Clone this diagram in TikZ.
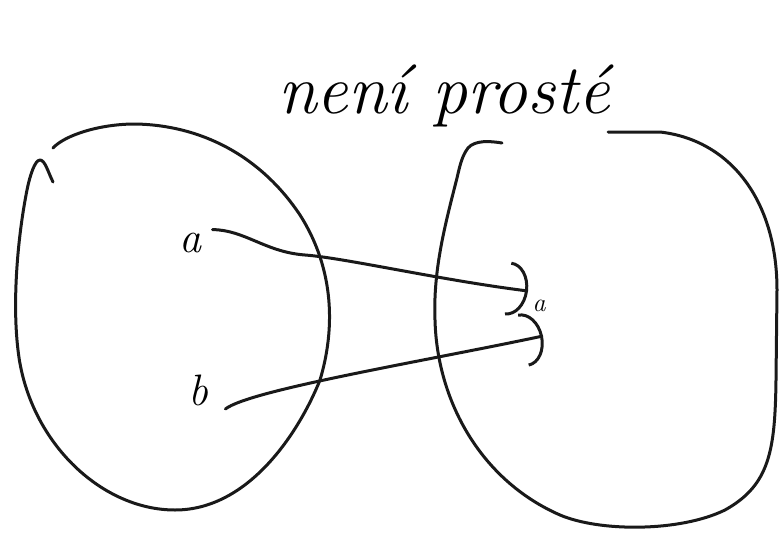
\documentclass[tikz,border=0pt]{standalone}
\usepackage{fontspec}
\usetikzlibrary{arrows.meta,positioning}
\tikzset{pen/.style={line width=3pt,line cap=round,line join=round,draw=black!90},map/.style={pen,-{Arc Barb[length=20pt,width=54pt,line width=3pt]}},lbl/.style={inner sep=3.3pt,font=\fontsize{44}{46}\selectfont\itshape}}

\begin{document}
\begin{tikzpicture}[x=1pt,y=-1pt]
\useasboundingbox (0,0) rectangle (779,535);
% the two sets
\draw[pen] (53,182) .. controls (48,172) and (45,160) .. (40,160) .. controls (35,160) and (30,175) .. (27,190) .. controls (18,235) and (12,300) .. (18,350) .. controls (28,440) and (100,510) .. (175,510) .. controls (250,510) and (300,430) .. (320,380) .. controls (335,330) and (335,270) .. (300,215) .. controls (260,155) and (200,125) .. (135,124) .. controls (100,124) and (65,135) .. (53,148);
\draw[pen] (502,143) .. controls (490,141) and (475,140) .. (468,148) .. controls (462,156) and (460,165) .. (457,178) .. controls (445,225) and (433,270) .. (435,320) .. controls (437,400) and (480,480) .. (560,515) .. controls (600,532) and (680,532) .. (725,510) .. controls (770,485) and (775,450) .. (776,380) -- (777,290) .. controls (777,200) and (730,140) .. (660,132) -- (608,132);
\node[anchor=base west,inner sep=0pt,font=\fontsize{70}{72}\selectfont\itshape] (title) at (278,113) {není prosté};
\node[lbl] (a) at (190,243) {a};
\node[lbl] (b) at (198,390) {b};
\node[lbl,font=\fontsize{26}{28}\selectfont\itshape] (fa) at (539,306) {a};
\coordinate (ta) at (528,291);
\coordinate (tb) at (543,336);
\draw[map] ([xshift=8pt]a.north east) .. controls (245,230) and (265,252) .. (305,255) .. controls (345,258) and (440,280) .. (ta);
\draw[map] ([xshift=14pt]b.south east) .. controls (250,390) and (420,362) .. (tb);
\end{tikzpicture}
\end{document}
